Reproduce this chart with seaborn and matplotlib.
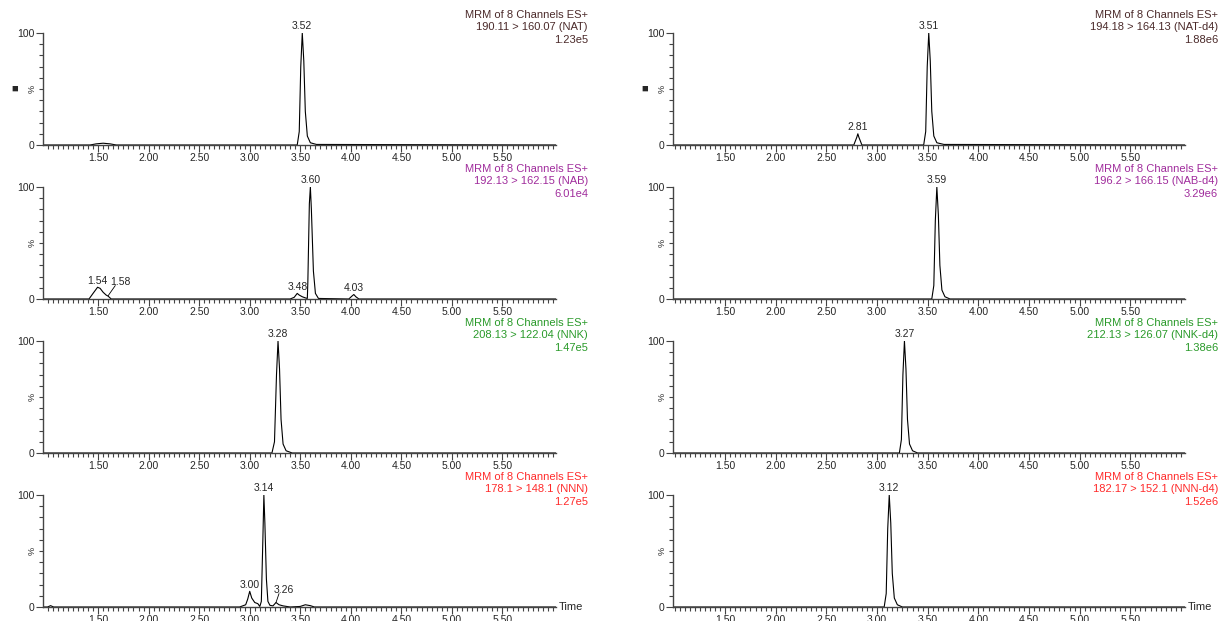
"""Восемь MRM-хроматограмм (аналиты слева, дейтерированные стандарты справа)."""

import matplotlib
matplotlib.use("Agg")
import matplotlib.pyplot as plt
from matplotlib.ticker import MultipleLocator, FixedLocator
import seaborn as sns

W, H = 1225, 621

# Заголовки каналов
TITLES = ["190.11 > 160.07 (NAT)", "192.13 > 162.15 (NAB)",
          "208.13 > 122.04 (NNK)", "178.1 > 148.1 (NNN)",
          "194.18 > 164.13 (NAT-d4)", "196.2 > 166.15 (NAB-d4)",
          "212.13 > 126.07 (NNK-d4)", "182.17 > 152.1 (NNN-d4)"]
INTENS = ["1.23e5", "6.01e4", "1.47e5", "1.27e5",
          "1.88e6", "3.29e6", "1.38e6", "1.52e6"]
COLORS = ["#4b2a2a", "#a02c9c", "#2a9a2a", "#ff2a2a"]

# Следы (время, интенсивность %)
nat_t = [0.95, 1.42, 1.48, 1.55, 1.62, 1.68, 3.47, 3.49, 3.505, 3.52, 3.535, 3.55, 3.57, 3.60, 3.66, 6.05]
nat_i = [0, 0, 1.0, 1.6, 1.0, 0, 0, 12, 70, 100, 75, 30, 8, 2, 0.5, 0]
nab_t = [0.95, 1.41, 1.45, 1.495, 1.52, 1.55, 1.58, 1.60, 1.63, 3.40, 3.44, 3.47, 3.49, 3.52, 3.55,
         3.57, 3.575, 3.59, 3.60, 3.61, 3.63, 3.65, 3.68, 3.98, 4.01, 4.03, 4.05, 4.08, 6.05]
nab_i = [0, 0, 5, 10.5, 9.5, 6, 3.5, 2.5, 0, 0, 1.5, 5, 3.5, 2, 1, 0.5, 15, 85, 100, 80, 25, 5, 0.5, 0, 2.5, 4, 2, 0, 0]
nnk_t = [0.95, 3.22, 3.245, 3.265, 3.28, 3.295, 3.31, 3.33, 3.36, 3.42, 6.05]
nnk_i = [0, 0, 10, 70, 100, 75, 30, 8, 2, 0, 0]
nnn_t = [0.95, 1.00, 1.03, 1.06, 2.90, 2.96, 2.98, 3.00, 3.02, 3.05, 3.08, 3.10, 3.115, 3.13, 3.14,
         3.15, 3.165, 3.18, 3.20, 3.23, 3.26, 3.29, 3.33, 3.40, 3.50, 3.55, 3.60, 3.64, 6.05]
nnn_i = [0, 0, 1.2, 0, 0, 2, 7, 14, 8, 4, 3, 0.5, 5, 60, 100, 75, 25, 5, 1.5, 1, 4, 2, 1, 0, 0.5, 2, 1.2, 0, 0]
natd_t = [0.98, 2.77, 2.80, 2.81, 2.82, 2.85, 3.46, 3.48, 3.495, 3.51, 3.525, 3.54, 3.56, 3.59, 3.66, 6.05]
natd_i = [0, 0, 7, 10, 7, 0, 0, 12, 70, 100, 75, 30, 8, 2, 0.5, 0]
nabd_t = [0.98, 3.54, 3.56, 3.575, 3.59, 3.605, 3.62, 3.64, 3.67, 3.72, 6.05]
nabd_i = [0, 0, 12, 70, 100, 75, 30, 8, 2, 0, 0]
nnkd_t = [0.98, 3.22, 3.24, 3.255, 3.27, 3.285, 3.30, 3.32, 3.35, 3.40, 6.05]
nnkd_i = [0, 0, 12, 70, 100, 75, 30, 8, 2, 0, 0]
nnnd_t = [0.98, 3.07, 3.09, 3.105, 3.12, 3.135, 3.15, 3.17, 3.20, 3.25, 6.05]
nnnd_i = [0, 0, 12, 70, 100, 75, 30, 8, 2, 0, 0]

TRACES = [(nat_t, nat_i), (nab_t, nab_i), (nnk_t, nnk_i), (nnn_t, nnn_i),
          (natd_t, natd_i), (nabd_t, nabd_i), (nnkd_t, nnkd_i), (nnnd_t, nnnd_i)]

# Подписи пиков: (время, высота, текст, позиция вынесенной подписи или None)
PEAKS = [
    [(3.52, 100, "3.52", None)],
    [(3.60, 100, "3.60", None), (1.495, 10.5, "1.54", None),
     (1.60, 3, "1.58", (1.72, 11)), (3.48, 5, "3.48", None), (4.03, 4, "4.03", None)],
    [(3.28, 100, "3.28", None)],
    [(3.14, 100, "3.14", None), (3.00, 14, "3.00", None), (3.26, 4, "3.26", (3.34, 11))],
    [(3.51, 100, "3.51", None), (2.81, 10, "2.81", None)],
    [(3.59, 100, "3.59", None)],
    [(3.27, 100, "3.27", None)],
    [(3.12, 100, "3.12", None)],
]

sns.set_style("ticks")
plt.rcParams["font.family"] = ["Liberation Sans", "DejaVu Sans"]

fig = plt.figure(figsize=(W / 100, H / 100), dpi=100)
AX_GRAY = "#444444"

for k in range(8):
    col, row = divmod(k, 4)
    left = 43 if col == 0 else 673
    width = 513 if col == 0 else 512
    top = 33 + 154 * row
    ax = fig.add_axes([left / W, 1 - (top + 112) / H, width / W, 112 / H])
    t, y = TRACES[k]
    sns.lineplot(x=t, y=y, ax=ax, color="black", lw=0.8, estimator=None, sort=False)
    ax.set_xlim(0.955 if col == 0 else 0.985, 6.03 if col == 0 else 6.04)
    ax.set_ylim(0, 100)
    sns.despine(ax=ax)
    for s in ("left", "bottom"):
        ax.spines[s].set_color(AX_GRAY)
        ax.spines[s].set_linewidth(1)
    ax.xaxis.set_major_locator(FixedLocator([1.5, 2.0, 2.5, 3.0, 3.5, 4.0, 4.5, 5.0, 5.5]))
    ax.xaxis.set_minor_locator(MultipleLocator(0.05))
    ax.set_xticklabels(["1.50", "2.00", "2.50", "3.00", "3.50", "4.00", "4.50", "5.00", "5.50"])
    ax.yaxis.set_major_locator(FixedLocator([0, 100]))
    ax.yaxis.set_minor_locator(MultipleLocator(10))
    ax.set_yticklabels(["0", "100"])
    ax.tick_params(which="major", length=5, width=0.8, color=AX_GRAY, labelsize=7.5, pad=1)
    ax.tick_params(which="minor", length=3, width=0.8, color=AX_GRAY)
    ax.set_xlabel("")
    ax.set_ylabel("%", fontsize=6.5, rotation=90, labelpad=0)
    ax.yaxis.set_label_coords(-0.012, 0.5)

    for (pt, ph, lab, off) in PEAKS[k]:
        if off is None:
            ax.text(pt, ph + 1.5, lab, ha="center", va="bottom", fontsize=7.5, clip_on=False)
        else:
            ax.text(off[0], off[1], lab, ha="center", va="bottom", fontsize=7.5, clip_on=False)
            ax.plot([pt, off[0] - 0.05], [ph, off[1] + 1], color="black", lw=0.6)

    xr = 588 if col == 0 else 1218
    c = COLORS[row]
    fig.text(xr / W, 1 - (15 + 154 * row) / H, "MRM of 8 Channels ES+", ha="right",
             va="center", fontsize=8, color=c)
    fig.text(xr / W, 1 - (27.5 + 154 * row) / H, TITLES[k], ha="right", va="center",
             fontsize=8, color=c)
    fig.text(xr / W, 1 - (40 + 154 * row) / H, INTENS[k], ha="right", va="center",
             fontsize=8, color=c)

    if row == 0:
        fig.text((15 if col == 0 else 645) / W, 1 - 89 / H, "\u25a0", ha="center",
                 va="center", fontsize=8)
    if row == 3:
        ax.text(1.005, 0, "Time", transform=ax.transAxes, ha="left", va="center",
                fontsize=8)

fig.savefig("out.png", dpi=100)
